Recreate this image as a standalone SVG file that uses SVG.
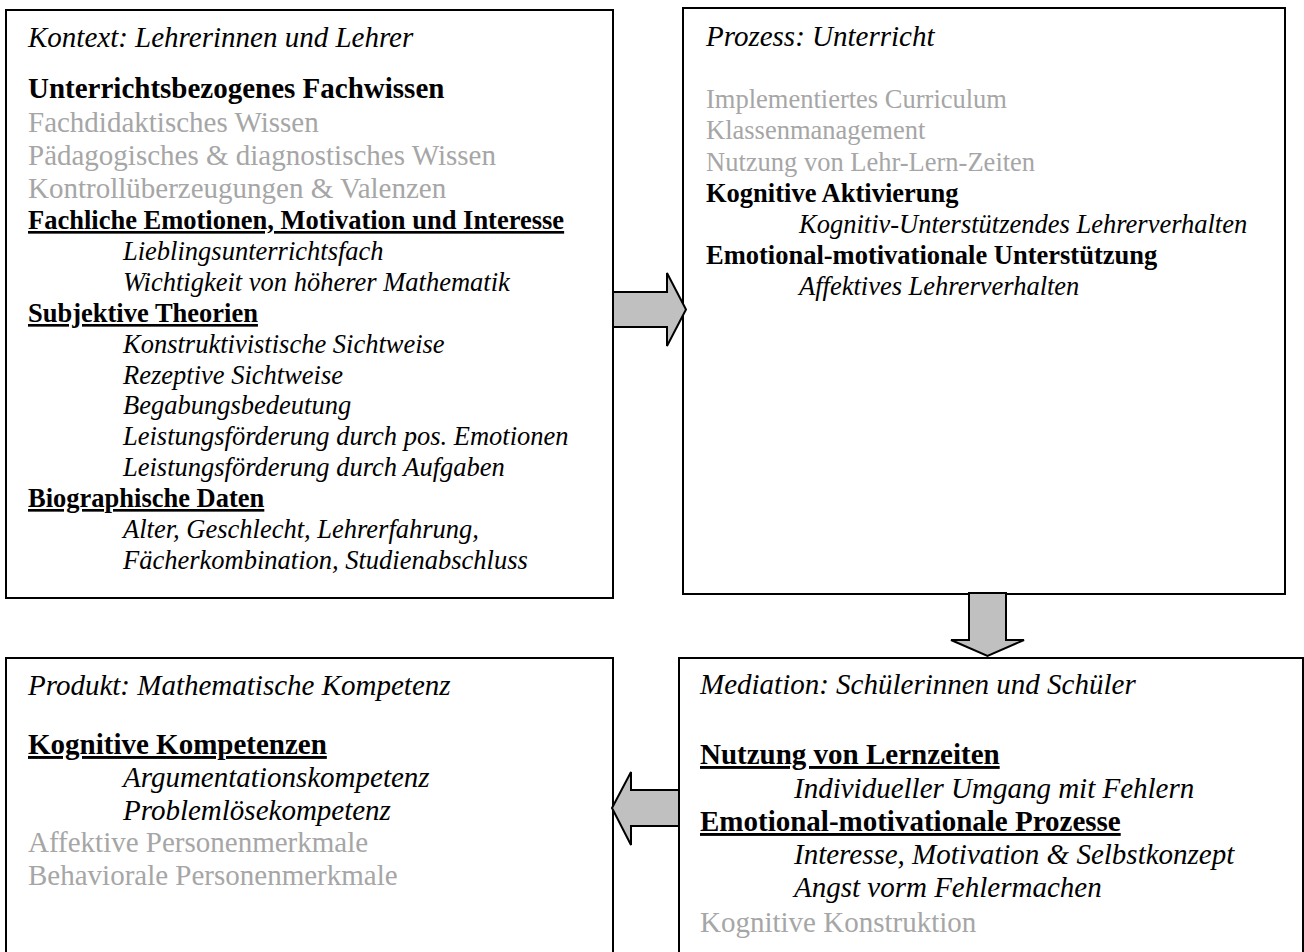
<svg xmlns="http://www.w3.org/2000/svg" width="1304" height="952" viewBox="0 0 1304 952">
  <style>
    text { font-family: "Liberation Serif", "Times New Roman", serif; fill: #000; }
    .box { fill: #fff; stroke: #000; stroke-width: 2; }
    .arrow { fill: #c0c0c0; stroke: #000; stroke-width: 2; stroke-linejoin: miter; }
    .big { font-size: 29px; }
    .small { font-size: 26.5px; }
    .title { font-style: italic; }
    .head { font-weight: bold; }
    .ul { text-decoration: underline; }
    .sub { font-style: italic; }
    .grey { fill: #a6a6a6; }
  </style>

  <rect width="1304" height="952" fill="#fff"/>

  <!-- Kontext -->
  <g id="kontext">
    <rect class="box" x="6" y="10" width="607" height="588"/>
    <text class="big title" x="28" y="47">Kontext: Lehrerinnen und Lehrer</text>
    <text class="big head" x="28" y="98">Unterrichtsbezogenes Fachwissen</text>
    <text class="big grey" x="28" y="132">Fachdidaktisches Wissen</text>
    <text class="big grey" x="28" y="165">Pädagogisches &amp; diagnostisches Wissen</text>
    <text class="big grey" x="28" y="198">Kontrollüberzeugungen &amp; Valenzen</text>
    <text class="small head ul" x="28" y="229">Fachliche Emotionen, Motivation und Interesse</text>
    <text class="small sub" x="123" y="260">Lieblingsunterrichtsfach</text>
    <text class="small sub" x="123" y="291">Wichtigkeit von höherer Mathematik</text>
    <text class="small head ul" x="28" y="322">Subjektive Theorien</text>
    <text class="small sub" x="123" y="353">Konstruktivistische Sichtweise</text>
    <text class="small sub" x="123" y="384">Rezeptive Sichtweise</text>
    <text class="small sub" x="123" y="414">Begabungsbedeutung</text>
    <text class="small sub" x="123" y="445">Leistungsförderung durch pos. Emotionen</text>
    <text class="small sub" x="123" y="476">Leistungsförderung durch Aufgaben</text>
    <text class="small head ul" x="28" y="507">Biographische Daten</text>
    <text class="small sub" x="123" y="538">Alter, Geschlecht, Lehrerfahrung,</text>
    <text class="small sub" x="123" y="569">Fächerkombination, Studienabschluss</text>
  </g>

  <!-- Prozess -->
  <g id="prozess">
    <rect class="box" x="683" y="8" width="602" height="586"/>
    <text class="big title" x="706" y="46">Prozess: Unterricht</text>
    <text class="small grey" x="706" y="108">Implementiertes Curriculum</text>
    <text class="small grey" x="706" y="139">Klassenmanagement</text>
    <text class="small grey" x="706" y="171">Nutzung von Lehr-Lern-Zeiten</text>
    <text class="small head" x="706" y="202">Kognitive Aktivierung</text>
    <text class="small sub" x="799" y="233">Kognitiv-Unterstützendes Lehrerverhalten</text>
    <text class="small head" x="706" y="264">Emotional-motivationale Unterstützung</text>
    <text class="small sub" x="799" y="295">Affektives Lehrerverhalten</text>
  </g>

  <!-- Produkt -->
  <g id="produkt">
    <rect class="box" x="6" y="658" width="607" height="310"/>
    <text class="big title" x="28" y="695">Produkt: Mathematische Kompetenz</text>
    <text class="big head ul" x="28" y="754">Kognitive Kompetenzen</text>
    <text class="big sub" x="123" y="787">Argumentationskompetenz</text>
    <text class="big sub" x="123" y="820">Problemlösekompetenz</text>
    <text class="big grey" x="28" y="852">Affektive Personenmerkmale</text>
    <text class="big grey" x="28" y="885">Behaviorale Personenmerkmale</text>
  </g>

  <!-- Mediation -->
  <g id="mediation">
    <rect class="box" x="679" y="658" width="624" height="310"/>
    <text class="big title" x="700" y="694">Mediation: Schülerinnen und Schüler</text>
    <text class="big head ul" x="700" y="764">Nutzung von Lernzeiten</text>
    <text class="big sub" x="794" y="798">Individueller Umgang mit Fehlern</text>
    <text class="big head ul" x="700" y="831">Emotional-motivationale Prozesse</text>
    <text class="big sub" x="794" y="864">Interesse, Motivation &amp; Selbstkonzept</text>
    <text class="big sub" x="794" y="897">Angst vorm Fehlermachen</text>
    <text class="big grey" x="700" y="932">Kognitive Konstruktion</text>
  </g>

  <!-- Block arrows between the stages -->
  <g id="connectors">
    <polygon class="arrow" points="613,292 667,292 667,273 686,309.5 667,346 667,327 613,327"/>
    <polygon class="arrow" points="969,593 1006,593 1006,640 1024,640 987.5,656 951,640 969,640"/>
    <polygon class="arrow" points="679,790 631,790 631,772 612,808 631,845 631,826 679,826"/>
  </g>
</svg>
